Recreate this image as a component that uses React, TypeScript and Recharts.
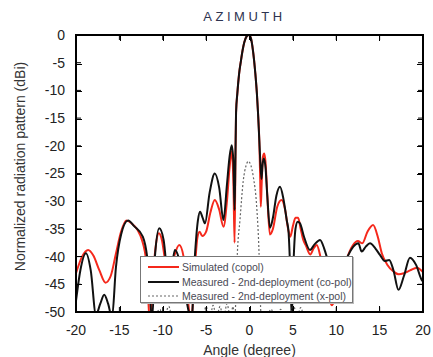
import React from 'react';
import { LineChart, Line, XAxis, YAxis, Label } from 'recharts';

const ANGLE_TICKS = [-20, -15, -10, -5, 0, 5, 10, 15, 20];
const DB_TICKS = [0, -5, -10, -15, -20, -25, -30, -35, -40, -45, -50];

const SERIES_NAMES = [
  'Simulated (copol)',
  'Measured - 2nd-deployment (co-pol)',
  'Measured - 2nd-deployment (x-pol)',
];

// Simulated (copol)
const simAngle = [
  -20, -19.3, -18.6, -18.0, -17.3, -16.6, -16.0, -15.4, -14.8, -14.2, -13.6, -12.9, -12.4, -11.9, -11.45,
  -11.1, -10.8, -10.45, -10.1, -9.7, -9.3, -8.7, -8.1, -7.6, -7.2, -6.75, -6.3, -6.0, -5.75, -5.45, -5.0,
  -4.5, -4.0, -3.5, -3.0, -2.6, -2.3, -2.05, -1.85, -1.72, -1.62, -1.55, -1.4, -1.2, -1.0, -0.8, -0.6,
  -0.35, -0.1, 0.15, 0.4, 0.67, 0.85, 0.98, 1.13, 1.22, 1.3, 1.4, 1.55, 1.7, 1.85, 2.05, 2.35, 2.7, 3.2,
  3.7, 4.1, 4.45, 4.7, 5.0, 5.3, 5.6, 5.9, 6.2, 6.5, 7.0, 7.4, 7.75, 8.1, 8.5, 9.0, 9.5, 10.0, 10.6, 11.2,
  11.9, 12.5, 13.0, 13.6, 14.25, 14.8, 15.25, 15.9, 16.6, 17.2, 17.8, 18.5, 19.3, 20,
];
const simDb = [
  -43.0, -40.0, -38.8, -39.8, -42.5, -44.7, -43.5, -39.5, -35.5, -33.5, -34.0, -35.2, -37.0, -41.0, -52,
  -43, -38, -35.8, -37, -41, -44, -40, -37.9, -40, -46, -52, -42, -36.5, -35.5, -36.3, -35.5,
  -32, -29.8, -31.5, -34.6, -30, -24, -21, -27, -37.5, -22, -14, -10.5, -7, -4.8, -2.8, -1.3,
  -0.3, 0, -0.5, -2.8, -6.9, -10.5, -14, -19, -25, -31, -27, -22, -21.4, -23, -29, -36, -35, -31,
  -29.8, -31.5, -35, -36.4, -34.5, -33, -33, -35, -37, -38, -39.6, -38.5, -37.9, -39.5, -43, -46.5, -48.8, -47, -44, -40.5,
  -38, -37.2, -37.6, -35.5, -34.3, -36.5, -39.4, -41.5, -42.7, -43.2, -43.0, -42.5, -42.0, -42.8,
];

// Measured co-pol
const coAngle = [
  -20, -19.5, -18.85, -18.3, -17.7, -17.2, -16.75, -16.3, -15.85, -15.4, -14.8, -14.0, -13.3, -12.3, -11.8,
  -11.2, -10.9, -10.4, -9.9, -9.5, -9.2, -8.9, -8.6, -8.2, -7.6, -7.0, -6.7, -6.3, -5.95, -5.7, -5.4, -5.13,
  -4.6, -4.0, -3.5, -3.0, -2.6, -2.3, -2.05, -1.85, -1.72, -1.62, -1.55, -1.4, -1.2, -1.0, -0.8, -0.6,
  -0.35, -0.1, 0.15, 0.4, 0.67, 0.85, 0.98, 1.13, 1.25, 1.38, 1.5, 1.65, 1.85, 2.05, 2.36, 2.7, 3.1, 3.52,
  3.9, 4.3, 4.5, 4.75, 4.87, 5.05, 5.3, 5.55, 5.82, 6.3, 6.97, 7.5, 8.13, 8.6, 8.9, 9.4, 10.0, 10.6, 11.3,
  11.97, 12.55, 12.93, 13.4, 13.89, 14.5, 15.04, 15.6, 16.1, 16.6, 17.17, 17.8, 18.5, 19.2, 19.85, 20,
];
const coDb = [
  -48, -42.5, -39.4, -42.5, -50.5, -48.5, -46.9, -48.5, -51, -42, -36, -33.5, -34.5, -36.4, -40,
  -51, -40, -34.9, -37, -43, -47, -41.5, -38.8, -40, -45, -50, -52, -40, -33.5, -31.9, -33, -34,
  -28.5, -25, -27.5, -33.4, -27, -22, -19.9, -23, -31.6, -22, -14, -10.5, -7, -4.8, -2.8, -1.3,
  -0.3, 0, -0.5, -2.8, -6.9, -10.5, -14, -19, -23, -26, -23.5, -22.3, -24, -29, -34.8, -33, -29, -27.4,
  -29.5, -33.5, -35.5, -45, -51, -42, -35, -33.7, -34.0, -36.5, -38.8, -37.8, -37.0, -38.5, -40, -43, -44, -42.5, -40,
  -38.2, -37.6, -39.1, -38.2, -37.6, -38.5, -39.7, -40.8, -40.6, -42.5, -46.0, -43.5, -40.2, -41.5, -44.2, -44.5,
];

// Measured x-pol
const xAngle = [
  -20, -12, -10.3, -10, -9.3, -8.8, -5.4, -5.0, -4.6, -4.2, -3.8, -3.4, -3.0, -2.6, -2.2, -1.9, -1.7,
  -1.55, -1.4, -1.1, -0.71, -0.4, -0.14, 0.15, 0.44, 0.83, 1.1, 1.25, 1.4, 2, 2.5, 3, 3.6, 4.2, 5.1, 5.5,
  5.9, 6.4, 8, 20,
];
const xDb = [
  -55, -55, -49.5, -52, -49, -52, -51, -49, -51.5, -48.8, -51, -49, -51.5, -48.5, -51, -49, -52,
  -46, -39.4, -33.4, -26.2, -23.6, -22.8, -23.5, -25.6, -31, -39.4, -48, -52, -51, -49.5, -52, -49.5, -52, -49, -51,
  -49.2, -52, -55, -55,
];

const toPoints = (xs: number[], ys: number[]) => xs.map((x, i) => ({ x, y: ys[i] }));
const simData = toPoints(simAngle, simDb);
const coData = toPoints(coAngle, coDb);
const xpolData = toPoints(xAngle, xDb);

const FONT = '"Liberation Sans", Arial, Helvetica, sans-serif';
const RED = '#f5281b';
const BLACK = '#111111';
const GRAY = '#666666';

const legendStyles = [
  { stroke: RED, width: 2, dash: undefined as string | undefined },
  { stroke: BLACK, width: 2, dash: undefined as string | undefined },
  { stroke: GRAY, width: 1.2, dash: '2 2' },
];

// plot frame geometry (layout only)
const PLOT = { left: 76, top: 35, width: 347, height: 277 };
const X_MIN = -20, X_MAX = 20, Y_MIN = -50, Y_MAX = 0;

const NoLabel = () => <g />;

export default function App() {
  const tickStyle = { fill: '#222', fontSize: 14, fontFamily: FONT };
  const tickLine = { stroke: '#000', strokeWidth: 1 };
  const axisLine = { stroke: '#000', strokeWidth: 1.8 };
  const xPct = (v: number) => ((v - X_MIN) / (X_MAX - X_MIN)) * 100;
  const yPct = (v: number) => ((Y_MAX - v) / (Y_MAX - Y_MIN)) * 100;
  return (
    <div style={{ position: 'absolute', left: 0, top: 0, width: 433, height: 357, background: '#fff' }}>
      <LineChart width={433} height={357} margin={{ top: 34, right: 0, bottom: 0, left: 0 }}>
        <XAxis
          xAxisId="b"
          dataKey="x"
          type="number"
          domain={[-20, 20]}
          ticks={ANGLE_TICKS}
          height={45}
          axisLine={axisLine}
          tickLine={tickLine}
          tickSize={-5}
          tickMargin={18}
          tick={tickStyle}
        >
          <Label
            value="Angle (degree)"
            position="insideBottom"
            offset={2}
            style={{ fill: '#333', fontSize: 14, fontFamily: FONT }}
          />
        </XAxis>
        <XAxis
          xAxisId="t"
          dataKey="x"
          orientation="top"
          type="number"
          domain={[-20, 20]}
          ticks={ANGLE_TICKS}
          height={1}
          axisLine={axisLine}
          tickLine={tickLine}
          tickSize={-5}
          tick={NoLabel}
        />
        <YAxis
          yAxisId="l"
          type="number"
          domain={[-50, 0]}
          ticks={DB_TICKS}
          allowDataOverflow
          width={76}
          axisLine={axisLine}
          tickLine={tickLine}
          tickSize={-5}
          tickMargin={16}
          tick={tickStyle}
        >
          <Label
            value="Normalized radiation pattern (dBi)"
            angle={-90}
            position="center"
            dx={-18}
            dy={-7}
            style={{ fill: '#333', fontSize: 14, fontFamily: FONT, textAnchor: 'middle' }}
          />
        </YAxis>
        <YAxis
          yAxisId="r"
          orientation="right"
          type="number"
          domain={[-50, 0]}
          ticks={DB_TICKS}
          allowDataOverflow
          width={10}
          axisLine={axisLine}
          tickLine={tickLine}
          tickSize={-5}
          tick={NoLabel}
        />
        <Line
          xAxisId="t"
          yAxisId="r"
          data={simData}
          dataKey="y"
          name={SERIES_NAMES[0]}
          type="monotone"
          stroke={RED}
          strokeWidth={2}
          dot={false}
          isAnimationActive={false}
        />
        <Line
          xAxisId="b"
          yAxisId="l"
          data={coData}
          dataKey="y"
          name={SERIES_NAMES[1]}
          type="monotone"
          stroke={BLACK}
          strokeWidth={2}
          dot={false}
          isAnimationActive={false}
        />
        <Line
          xAxisId="b"
          yAxisId="l"
          data={xpolData}
          dataKey="y"
          name={SERIES_NAMES[2]}
          type="monotone"
          stroke={GRAY}
          strokeWidth={1.2}
          strokeDasharray="2 2"
          dot={false}
          isAnimationActive={false}
        />
      </LineChart>

      {/* title */}
      <div
        style={{
          position: 'absolute',
          left: 0,
          width: 433,
          top: 9,
          textAlign: 'center',
          paddingLeft: 56,
          boxSizing: 'border-box',
          fontFamily: FONT,
          fontSize: 13,
          letterSpacing: 3.5,
          color: '#2e3350',
          lineHeight: '16px',
          pointerEvents: 'none',
        }}
      >
        AZIMUTH
      </div>

      {/* plot frame with inward ticks */}
      <div
        style={{
          position: 'absolute',
          left: PLOT.left - 1,
          top: PLOT.top - 1,
          width: PLOT.width + 2,
          height: PLOT.height + 2,
          border: '2px solid #000',
          boxSizing: 'border-box',
          pointerEvents: 'none',
        }}
      >
        {ANGLE_TICKS.slice(1, -1).map((v) => (
          <React.Fragment key={'x' + v}>
            <div style={{ position: 'absolute', left: `${xPct(v)}%`, top: 0, width: 1, height: 5, background: '#000' }} />
            <div style={{ position: 'absolute', left: `${xPct(v)}%`, bottom: 0, width: 1, height: 5, background: '#000' }} />
          </React.Fragment>
        ))}
        {DB_TICKS.slice(1, -1).map((v) => (
          <React.Fragment key={'y' + v}>
            <div style={{ position: 'absolute', top: `${yPct(v)}%`, left: 0, height: 1, width: 5, background: '#000' }} />
            <div style={{ position: 'absolute', top: `${yPct(v)}%`, right: 0, height: 1, width: 5, background: '#000' }} />
          </React.Fragment>
        ))}
      </div>

      {/* legend */}
      <div
        style={{
          position: 'absolute',
          left: 140,
          top: 256,
          width: 213,
          height: 47,
          background: '#fff',
          border: '1px solid #777',
          boxShadow: '1px 1px 0 #bbb',
          fontFamily: FONT,
          fontSize: 10.5,
          color: '#4a4a55',
          paddingTop: 3,
          boxSizing: 'border-box',
        }}
      >
        {SERIES_NAMES.map((name, i) => (
          <div key={name} style={{ display: 'flex', alignItems: 'center', height: 14.5, whiteSpace: 'nowrap' }}>
            <svg width={40} height={10} style={{ flex: 'none' }}>
              <line
                x1={7}
                x2={38}
                y1={5}
                y2={5}
                stroke={legendStyles[i].stroke}
                strokeWidth={legendStyles[i].width}
                strokeDasharray={legendStyles[i].dash}
              />
            </svg>
            <span style={{ marginLeft: 1 }}>{name}</span>
          </div>
        ))}
      </div>
    </div>
  );
}
